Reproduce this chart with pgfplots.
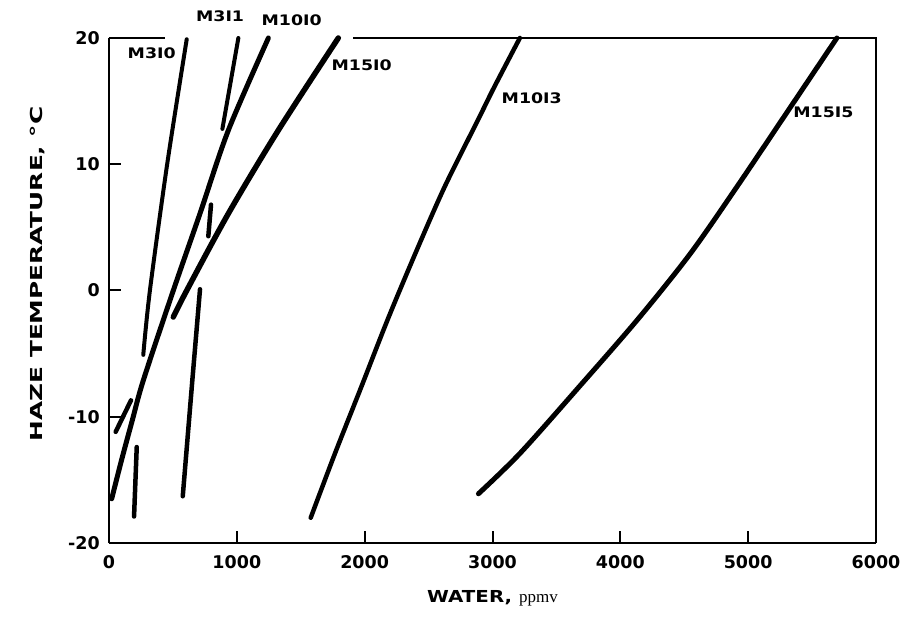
\documentclass[border=0pt]{standalone}
\usepackage{pgfplots}
\pgfplotsset{compat=1.18}
\usepackage{fontspec}
\newfontfamily\tickf{DejaVu Sans}
\newfontfamily\wideb[FakeStretch=1.2]{DejaVu Sans}
\newfontfamily\widerb[FakeStretch=1.5]{DejaVu Sans}
\newfontfamily\ppmvf{Liberation Serif}
\begin{document}
\begin{tikzpicture}
\begin{axis}[name=ax, scale only axis, width=767pt, height=505pt,
  xmin=0, xmax=6000, ymin=-20, ymax=20,
  axis x line*=bottom, axis y line*=left,
  axis line style={-, line width=2.5pt},
  x axis line style={-}, y axis line style={-},
  xtick={0,1000,2000,3000,4000,5000,6000},
  xticklabels={0,1000,2000,3000,4000,5000,6000},
  ytick={-20,-10,0,10,20}, yticklabels={-20,-10,0,10,20},
  tick align=inside, major tick length=12pt,
  tick style={line width=2pt, black},
  xticklabel style={font=\tickf\bfseries\fontsize{17.5}{18}\selectfont, anchor=north, inner sep=0pt, yshift=-12pt},
  yticklabel style={font=\tickf\bfseries\fontsize{17.5}{18}\selectfont, anchor=east, inner sep=0pt, xshift=-9pt},
  xlabel={WATER, {\ppmvf\mdseries\fontsize{17}{17}\selectfont ppmv}},
  xlabel style={font=\wideb\bfseries\fontsize{16.5}{17}\selectfont, at={(axis description cs:0.5,-0.109)}, anchor=center},
  ylabel={HAZE TEMPERATURE, °C},
  ylabel style={font=\widerb\bfseries\fontsize{16.5}{17}\selectfont, at={(axis description cs:-0.0926,0.533)}, anchor=center},
  clip=false,
  every axis plot/.append style={black, line cap=round, line join=round},
]
% M3I0
\addplot[line width=4pt, smooth] coordinates {(268,-5.1) (320,0.0) (455,10.0) (608,19.9)};
% M3I1
\addplot[line width=4pt] coordinates {(887,12.8) (1012,20)};
% M10I0
\addplot[line width=5pt, smooth] coordinates {(21,-16.5) (99,-13.4) (183,-10.25) (269,-7.1) (503,0.0) (712,6.1) (934,12.7) (1247,20)};
% M15I0
\addplot[line width=5.5pt, smooth] coordinates {(503,-2.1) (608,0.0) (934,6.1) (1325,12.7) (1794,20)};
% short segments
\addplot[line width=4.5pt] coordinates {(777,4.3) (798,6.8)};
\addplot[line width=4.5pt] coordinates {(577,-16.3) (652,-7.1) (712,0.1)};
\addplot[line width=4.5pt] coordinates {(52,-11.2) (172,-8.7)};
\addplot[line width=4.5pt] coordinates {(196,-17.9) (217,-12.4)};
% M10I3
\addplot[line width=4.5pt, smooth] coordinates {(1578,-18.0) (1768,-12.9) (1975,-7.6) (2180,-2.3) (2395,2.9) (2625,8.2) (2886,13.5) (3013,16.1) (3214,20)};
% M15I5
\addplot[line width=5pt, smooth] coordinates {(2890,-16.1) (3215,-12.9) (3680,-7.6) (4135,-2.3) (4546,2.9) (4911,8.2) (5316,14.3) (5694,20)};
% frame top and right
\draw[line width=2.5pt] (axis cs:0,20) -- (axis cs:438,20);
\draw[line width=2.5pt] (axis cs:1910,20) -- (axis cs:6000,20) -- (axis cs:6000,-20);
% labels
\node[font=\wideb\bfseries\fontsize{14.5}{15}\selectfont] at (axis cs:334,18.8) {M3I0};
\node[font=\wideb\bfseries\fontsize{14.5}{15}\selectfont] at (axis cs:869,21.7) {M3I1};
\node[font=\wideb\bfseries\fontsize{14.5}{15}\selectfont] at (axis cs:1429,21.4) {M10I0};
\node[font=\wideb\bfseries\fontsize{14.5}{15}\selectfont] at (axis cs:1977,17.85) {M15I0};
\node[font=\wideb\bfseries\fontsize{14.5}{15}\selectfont] at (axis cs:3307,15.2) {M10I3};
\node[font=\wideb\bfseries\fontsize{14.5}{15}\selectfont] at (axis cs:5589,14.15) {M15I5};
\end{axis}
\path ([shift={(-109pt,-75pt)}]ax.south west) rectangle ([shift={(38pt,38pt)}]ax.north east);
\end{tikzpicture}
\end{document}
